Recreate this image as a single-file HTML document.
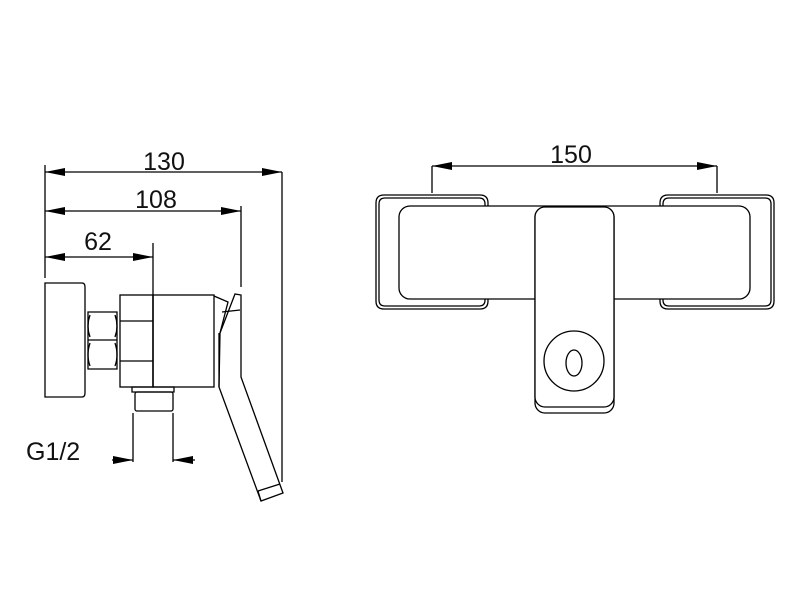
<!DOCTYPE html>
<html><head><style>body{margin:0;background:#fff}svg{display:block}text{font-family:"Liberation Sans",Arial,sans-serif;fill:#111}</style></head><body>
<svg width="800" height="600" viewBox="0 0 800 600" xmlns="http://www.w3.org/2000/svg">
<defs>
<marker id="a" markerWidth="20" markerHeight="8" refX="20" refY="4" orient="auto" markerUnits="userSpaceOnUse"><path d="M0,0 L20,4 L0,8 Z" fill="#000"/></marker>
<marker id="b" markerWidth="20" markerHeight="8" refX="0" refY="4" orient="auto" markerUnits="userSpaceOnUse"><path d="M20,0 L0,4 L20,8 Z" fill="#000"/></marker>
</defs>
<g stroke="#000" stroke-width="1.3" fill="none">
<line x1="45" y1="172" x2="282" y2="172" marker-start="url(#b)" marker-end="url(#a)"/>
<line x1="282" y1="172" x2="282" y2="482"/>
<line x1="45" y1="165" x2="45" y2="278"/>
<line x1="45" y1="211" x2="241" y2="211" marker-start="url(#b)" marker-end="url(#a)"/>
<line x1="241" y1="206" x2="241" y2="287"/>
<line x1="45" y1="257" x2="153" y2="257" marker-start="url(#b)" marker-end="url(#a)"/>
<line x1="153" y1="243" x2="153" y2="387"/>
<path d="M45,283 H82 Q85,283 85,287 V393 Q85,397 82,397 H45 Z"/>
<path d="M88,312 H117 V369 H88 Z"/>
<path d="M88,340 H117 M90,315 Q86,326 90,337 M115,315 Q119,326 115,337 M90,343 Q86,355 90,366 M115,343 Q119,355 115,366"/>
<rect x="120" y="295" width="33" height="92"/>
<line x1="120" y1="321" x2="153" y2="321"/>
<line x1="120" y1="361" x2="153" y2="361"/>
<rect x="153" y="295" width="61" height="92"/>
<path d="M214,296 L228,302 L220,333"/>
<path d="M220,333 L235,294 L241,295 L241,377 L283,493 L261,501 L219,387 Z"/>
<path d="M222,312 L240,310"/>
<path d="M219,387 L219,333"/>
<line x1="261" y1="501" x2="258" y2="491"/><line x1="258" y1="491" x2="280" y2="484"/>
<path d="M132,392 V387 H174 V392 Z"/>
<rect x="135" y="392" width="38" height="19" rx="2"/>
<line x1="133" y1="413" x2="133" y2="462"/>
<line x1="173" y1="413" x2="173" y2="462"/>
<line x1="112" y1="460" x2="133" y2="460" marker-end="url(#a)"/>
<line x1="195" y1="460" x2="173" y2="460" marker-end="url(#a)"/>
<line x1="432" y1="166" x2="717" y2="166" marker-start="url(#b)" marker-end="url(#a)"/>
<line x1="432" y1="166" x2="432" y2="193"/>
<line x1="717" y1="166" x2="717" y2="193"/>
<path d="M488,206 V203 Q488,195 480,195 H384 Q376,195 376,203 V301 Q376,309 384,309 H480 Q488,309 488,301 V299"/>
<path d="M485,206 V204 Q485,198 479,198 H385 Q379,198 379,204 V300 Q379,306 385,306 H479 Q485,306 485,300 V299"/>
<path d="M660,206 V203 Q660,195 668,195 H766 Q774,195 774,203 V301 Q774,309 766,309 H668 Q660,309 660,301 V299"/>
<path d="M663,206 V204 Q663,198 669,198 H765 Q771,198 771,204 V300 Q771,306 765,306 H669 Q663,306 663,300 V299"/>
<rect x="399" y="206" width="351" height="93" rx="11"/>
<rect x="535" y="207" width="79" height="206" rx="10" fill="#fff"/>
<rect x="535" y="207" width="79" height="200" rx="10" fill="#fff"/>
<circle cx="574" cy="361" r="30"/>
<ellipse cx="574" cy="363" rx="8" ry="13"/>
</g>
<text x="164" y="170" font-size="25" text-anchor="middle">130</text>
<text x="156" y="208" font-size="25" text-anchor="middle">108</text>
<text x="98" y="250" font-size="25" text-anchor="middle">62</text>
<text x="26" y="460" font-size="25">G1/2</text>
<text x="571" y="163" font-size="25" text-anchor="middle">150</text>
</svg>
</body></html>
